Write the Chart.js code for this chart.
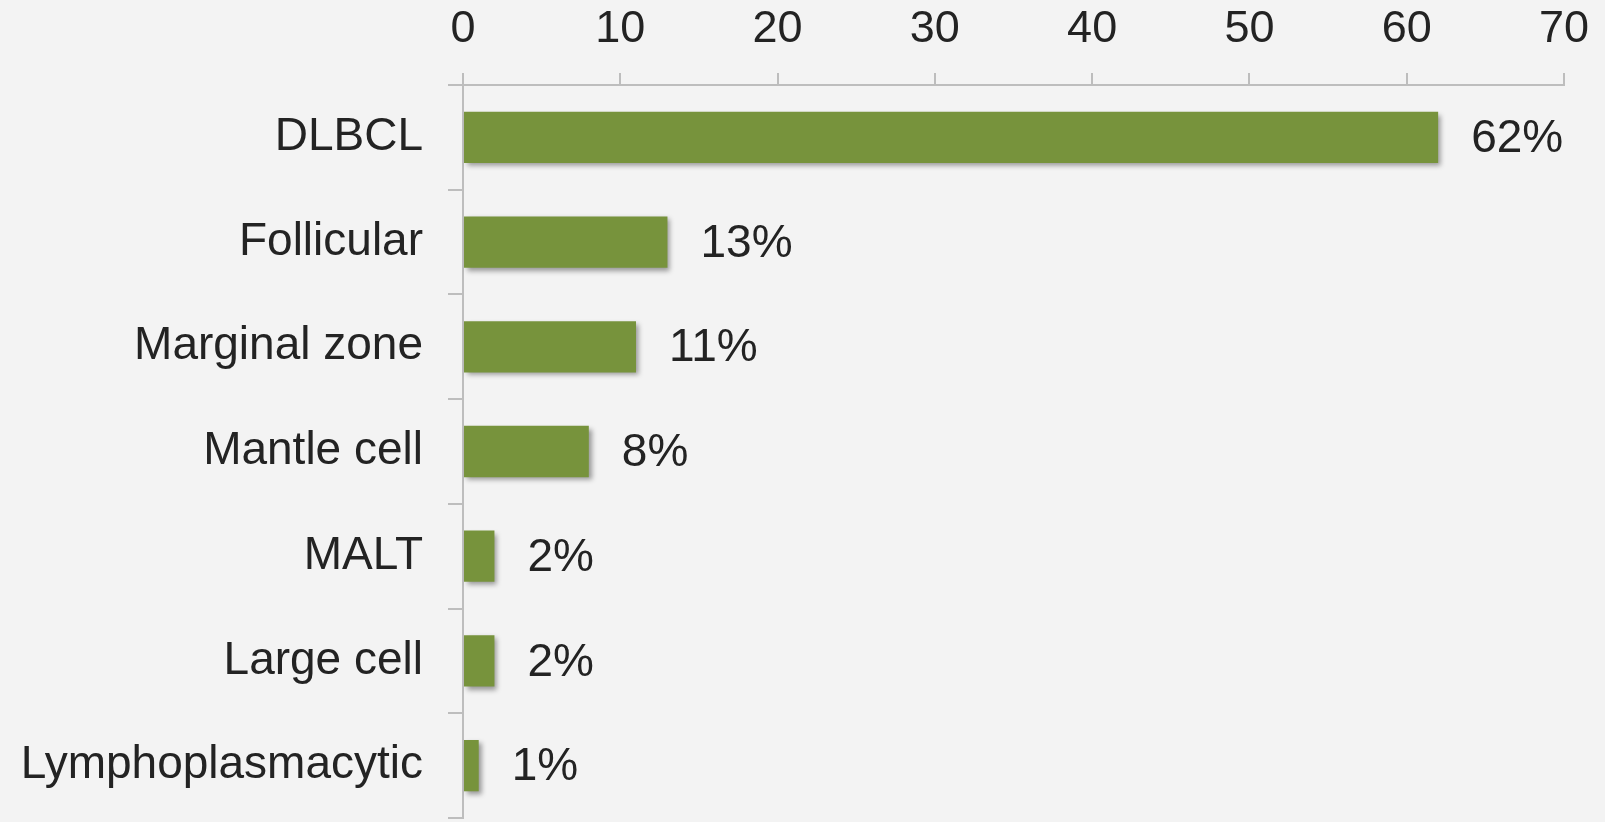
<!DOCTYPE html>
<html>
<head>
<meta charset="utf-8">
<script src="https://cdn.jsdelivr.net/npm/chart.js@4"></script>
<style>
  html, body { margin: 0; padding: 0; background: #f3f3f3; }
  #wrap { width: 1605px; height: 822px; }
</style>
</head>
<body>
<div id="wrap"><canvas id="c" width="1605" height="822"></canvas></div>
<script>
const categories = ["DLBCL", "Follicular", "Marginal zone", "Mantle cell", "MALT", "Large cell", "Lymphoplasmacytic"];
const values = [62, 13, 11, 8, 2, 2, 1];
const valueLabels = ["62%", "13%", "11%", "8%", "2%", "2%", "1%"];
const xTicks = [0, 10, 20, 30, 40, 50, 60, 70];

const FONT = "'Liberation Sans', Arial, sans-serif";
const TEXT = "#232323";
const AXIS = "#bdbdbd";

const shadowPlugin = {
  id: 'barShadow',
  beforeDatasetDraw(chart) {
    const ctx = chart.ctx;
    ctx.save();
    ctx.shadowColor = 'rgba(0,0,0,0.38)';
    ctx.shadowBlur = 5;
    ctx.shadowOffsetX = 3;
    ctx.shadowOffsetY = 3;
  },
  afterDatasetDraw(chart) {
    chart.ctx.restore();
  }
};

const labelPlugin = {
  id: 'valueLabels',
  afterDatasetsDraw(chart) {
    const ctx = chart.ctx;
    const meta = chart.getDatasetMeta(0);
    ctx.save();
    ctx.font = "46px " + FONT;
    ctx.fillStyle = TEXT;
    ctx.textAlign = 'left';
    ctx.textBaseline = 'middle';
    meta.data.forEach((bar, i) => {
      ctx.fillText(valueLabels[i], bar.x + 33, bar.y + 2);
    });
    ctx.restore();
  }
};

new Chart(document.getElementById('c'), {
  type: 'bar',
  data: {
    labels: categories,
    datasets: [{
      data: values,
      backgroundColor: '#77933c',
      borderWidth: 0,
      categoryPercentage: 1.0,
      barPercentage: 0.49
    }]
  },
  options: {
    indexAxis: 'y',
    responsive: false,
    animation: false,
    devicePixelRatio: 1,
    layout: { padding: { top: 0, right: 35, bottom: 4, left: 0 } },
    plugins: { legend: { display: false }, tooltip: { enabled: false } },
    scales: {
      x: {
        position: 'top',
        min: 0,
        max: 70,
        afterBuildTicks(scale) { scale.ticks = xTicks.map(v => ({ value: v })); },
        afterFit(scale) { scale.height = 85; },
        ticks: { font: { family: FONT, size: 45 }, color: TEXT, padding: 16, maxRotation: 0 },
        grid: { drawOnChartArea: false, drawTicks: true, tickLength: 12, color: AXIS, lineWidth: 2 },
        border: { display: true, color: AXIS, width: 2 }
      },
      y: {
        afterFit(scale) { scale.width = 463; scale.paddingTop = 0; scale.paddingBottom = 0; },
        ticks: { font: { family: FONT, size: 46 }, color: TEXT, padding: 25 },
        grid: { drawOnChartArea: false, drawTicks: true, tickLength: 15, color: AXIS, lineWidth: 2, offset: true },
        border: { display: true, color: AXIS, width: 2 }
      }
    }
  },
  plugins: [shadowPlugin, labelPlugin]
});
</script>
</body>
</html>
